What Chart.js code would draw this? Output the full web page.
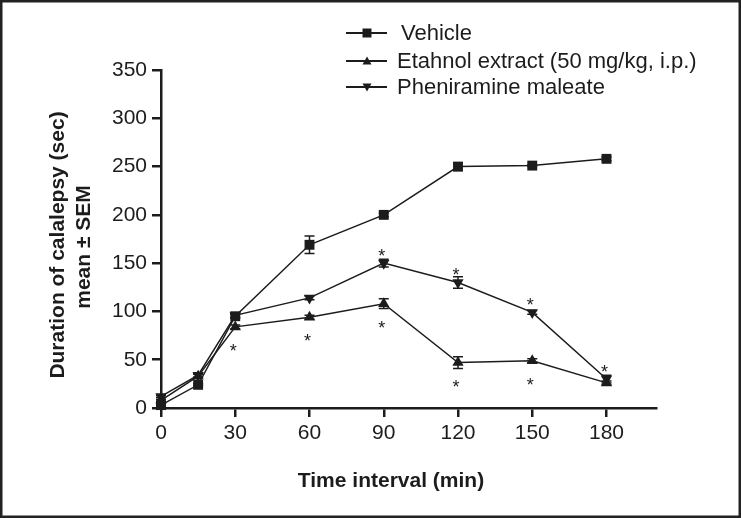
<!DOCTYPE html>
<html>
<head>
<meta charset="utf-8">
<script src="https://cdn.jsdelivr.net/npm/chart.js@4"></script>
<style>
  html, body { margin: 0; padding: 0; background: #fff; }
  #wrap { width: 741px; height: 518px; position: relative; }
</style>
</head>
<body>
<div id="wrap"><canvas id="c" width="741" height="518"></canvas></div>
<script>
// time points (min) and axis ticks
const times = [0, 15, 30, 60, 90, 120, 150, 180];
const xTicks = [0, 30, 60, 90, 120, 150, 180];
const yTicks = [0, 50, 100, 150, 200, 250, 300, 350];

// series (mean and SEM, sec)
const seriesNames = ['Vehicle', 'Etahnol extract (50 mg/kg, i.p.)', 'Pheniramine maleate'];
const vehicle = [3, 24, 95, 169, 200, 250, 251, 258];
const vehicleErr = [1, 1, 2, 9, 2, 4, 1, 2];
const ethanol = [8, 33, 84, 94, 108, 47, 49, 26];
const ethanolErr = [1, 2, 2, 2, 5, 6, 2, 2];
const pheniramine = [12, 34, 96, 114, 150, 130, 99, 30];
const pheniramineErr = [1, 2, 2, 2, 4, 6, 2, 4];
// significance markers (1 = asterisk)
const ethanolStar = [0, 0, 1, 1, 1, 1, 1, 0];
const pheniramineStar = [0, 0, 0, 0, 1, 1, 1, 1];

const INK = '#1c1c1c';
const FONT = '"Liberation Sans", Arial, Helvetica, sans-serif';

const toXY = arr => arr.map((v, i) => ({ x: times[i], y: v }));

const errors = [vehicleErr, ethanolErr, pheniramineErr];
const stars = [null, { flags: ethanolStar, dy: 21 }, { flags: pheniramineStar, dy: -10 }];

// draw a marker shape (used by the legend)
function marker(ctx, style, x, y, r) {
    ctx.beginPath();
    if (style === 'rect') {
        ctx.rect(x - r, y - r, 2 * r, 2 * r);
    } else if (style === 'up') {
        ctx.moveTo(x, y - r);
        ctx.lineTo(x + r, y + r * 0.8);
        ctx.lineTo(x - r, y + r * 0.8);
        ctx.closePath();
    } else {
        ctx.moveTo(x, y + r);
        ctx.lineTo(x + r, y - r * 0.8);
        ctx.lineTo(x - r, y - r * 0.8);
        ctx.closePath();
    }
    ctx.fill();
}

const extras = {
    id: 'extras',
    beforeDatasetsDraw(chart) {
        const { ctx, scales: { x, y } } = chart;
        ctx.save();
        ctx.strokeStyle = INK;
        ctx.lineWidth = 1.5;
        chart.data.datasets.forEach((ds, di) => {
            const err = errors[di];
            ds.data.forEach((p, i) => {
                const e = err[i];
                if (!e) return;
                const px = x.getPixelForValue(p.x);
                const top = y.getPixelForValue(p.y + e);
                const bot = y.getPixelForValue(p.y - e);
                ctx.beginPath();
                ctx.moveTo(px, top); ctx.lineTo(px, bot);
                ctx.moveTo(px - 5, top); ctx.lineTo(px + 5, top);
                ctx.moveTo(px - 5, bot); ctx.lineTo(px + 5, bot);
                ctx.stroke();
            });
        });
        ctx.restore();
    },
    afterDraw(chart) {
        const { ctx, scales: { x, y } } = chart;
        ctx.save();
        // asterisks
        ctx.fillStyle = INK;
        ctx.font = '18px ' + FONT;
        ctx.textAlign = 'center';
        ctx.textBaseline = 'middle';
        chart.data.datasets.forEach((ds, di) => {
            const s = stars[di];
            if (!s) return;
            ds.data.forEach((p, i) => {
                if (!s.flags[i]) return;
                const px = x.getPixelForValue(p.x) - 2;
                const py = y.getPixelForValue(p.y) + s.dy + 4;
                ctx.fillText('*', px, py);
            });
        });

        // axis titles
        ctx.font = 'bold 21px ' + FONT;
        ctx.fillText('Time interval (min)', 391, 481);
        ctx.save();
        ctx.translate(58, 245);
        ctx.rotate(-Math.PI / 2);
        ctx.fillText('Duration of calalepsy (sec)', 0, 0);
        ctx.restore();
        ctx.save();
        ctx.translate(84, 247);
        ctx.rotate(-Math.PI / 2);
        ctx.fillText('mean \u00b1 SEM', 0, 0);
        ctx.restore();

        // legend
        const styles = ['rect', 'up', 'down'];
        const rows = [33, 61, 87];
        ctx.font = '22px ' + FONT;
        ctx.textAlign = 'left';
        ctx.strokeStyle = INK;
        ctx.lineWidth = 2;
        seriesNames.forEach((name, i) => {
            const ry = rows[i];
            ctx.beginPath();
            ctx.moveTo(346, ry); ctx.lineTo(387, ry);
            ctx.stroke();
            marker(ctx, styles[i], 367, ry, i === 0 ? 4.5 : 4.5);
            ctx.fillText(name, i === 0 ? 401 : 397, ry + 1);
        });

        // outer frame
        ctx.strokeStyle = '#222';
        ctx.lineWidth = 3;
        ctx.strokeRect(1, 1, 739, 516);
        ctx.restore();
    }
};

const ds = (label, data, style, r, rot) => ({
    label,
    data: toXY(data),
    borderColor: INK,
    backgroundColor: INK,
    borderWidth: 1.5,
    pointStyle: style,
    pointRadius: r,
    pointRotation: rot,
    pointBorderWidth: 0,
    pointBackgroundColor: INK,
    clip: false
});

new Chart(document.getElementById('c'), {
    type: 'line',
    data: {
        datasets: [
            ds(seriesNames[0], vehicle, 'rect', 7, 0),
            ds(seriesNames[1], ethanol, 'triangle', 6.5, 0),
            ds(seriesNames[2], pheniramine, 'triangle', 6.5, 180)
        ]
    },
    options: {
        responsive: false,
        animation: false,
        devicePixelRatio: 1,
        layout: { padding: { top: 70, right: 85, left: 0, bottom: 0 } },
        plugins: { legend: { display: false }, tooltip: { enabled: false } },
        scales: {
            x: {
                type: 'linear',
                min: 0,
                max: 200,
                afterBuildTicks: s => { s.ticks = xTicks.map(v => ({ value: v })); },
                afterFit: s => { s.height = 110; },
                grid: { drawOnChartArea: false, drawTicks: true, tickLength: 9, color: INK, lineWidth: 2.5 },
                border: { display: true, color: INK, width: 2.5 },
                ticks: { color: INK, font: { family: FONT, size: 21 }, padding: 4, maxRotation: 0 }
            },
            y: {
                min: 0,
                max: 350,
                afterBuildTicks: s => { s.ticks = yTicks.map(v => ({ value: v })); },
                afterFit: s => { s.width = 161; },
                grid: { drawOnChartArea: false, drawTicks: true, tickLength: 9, color: INK, lineWidth: 2.5 },
                border: { display: true, color: INK, width: 2.5 },
                ticks: { color: INK, font: { family: FONT, size: 21 }, padding: 5 }
            }
        }
    },
    plugins: [extras]
});
</script>
</body>
</html>
